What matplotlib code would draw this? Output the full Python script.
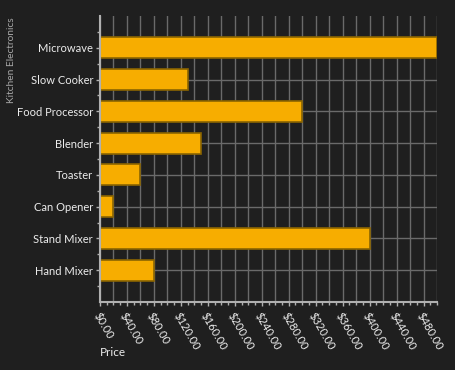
import numpy as np
import matplotlib
matplotlib.use("Agg")
import matplotlib.pyplot as plt
from matplotlib.ticker import MultipleLocator, FuncFormatter

products = ["Microwave", "Slow Cooker", "Food Processor", "Blender",
            "Toaster", "Can Opener", "Stand Mixer", "Hand Mixer"]
prices = [500, 130, 300, 150, 60, 20, 400, 80]

bg = "#1f1f1f"
bar_color = "#f7ad00"
grid_color = "#6a6a6a"
text_color = "#ececec"

plt.rcParams['font.family'] = ['Lato', 'DejaVu Sans']

fig = plt.figure(figsize=(4.55, 3.7), dpi=100, facecolor=bg)
ax = fig.add_axes([100/455, 1-302/370, 337/455, 286/370], facecolor=bg)

y = np.arange(len(products))

# vertical grid every $20
for gx in np.arange(0, 501, 20):
    ax.axvline(gx, color=grid_color, lw=1, zorder=0)
ax.grid(axis='y', color=grid_color, lw=1, zorder=0)
ax.set_axisbelow(True)

ax.barh(y, prices, height=0.66, color=bar_color, edgecolor="#8a6400",
        linewidth=1.2, zorder=2)

ax.set_xlim(0, 500)
ax.set_ylim(8, -1)
ax.set_yticks(y)
ax.set_yticklabels(products)
ax.set_yticks(np.arange(-0.5, 8, 1), minor=True)

ax.xaxis.set_major_locator(MultipleLocator(40))
ax.xaxis.set_minor_locator(MultipleLocator(10))
ax.xaxis.set_major_formatter(FuncFormatter(lambda v, p: "${:.2f}".format(v)))
plt.setp(ax.get_xticklabels(), rotation=-60, ha='left', va='top',
         rotation_mode='anchor')

ax.tick_params(axis='both', colors="#b0b0b0", labelcolor=text_color,
               labelsize=8, length=3, width=1)
ax.tick_params(axis='both', which='minor', colors="#b0b0b0", length=2, width=1)
ax.tick_params(axis='x', pad=3)
ax.tick_params(axis='y', pad=2)

for side in ['top', 'right']:
    ax.spines[side].set_visible(False)
for side in ['left', 'bottom']:
    ax.spines[side].set_color("#b0b0b0")
    ax.spines[side].set_linewidth(1.5)

fig.text(100/455, 1-352/370, "Price", color=text_color, fontsize=8.5,
         ha='left', va='center')
fig.text(12/455, 1-17/370, "Kitchen Electronics", color="#a8a8a8",
         fontsize=7.3, rotation=90, ha='center', va='top')

fig.savefig("out.png", dpi=100, facecolor=bg)
